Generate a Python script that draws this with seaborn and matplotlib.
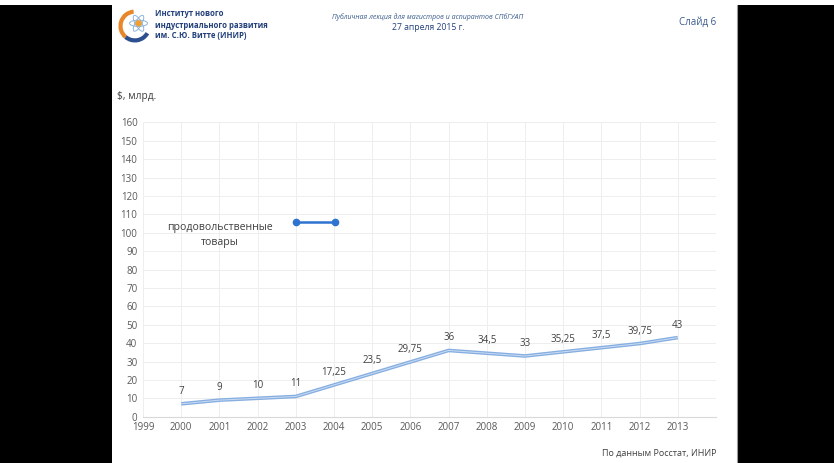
import matplotlib
matplotlib.use("Agg")
import matplotlib.pyplot as plt
import seaborn as sns
import pandas as pd
from matplotlib.patches import Rectangle, Arc, Ellipse, Circle
from matplotlib.lines import Line2D

years = [2000, 2001, 2002, 2003, 2004, 2005, 2006, 2007, 2008, 2009, 2010, 2011, 2012, 2013]
values = [7, 9, 10, 11, 17.25, 23.5, 29.75, 36, 34.5, 33, 35.25, 37.5, 39.75, 43]
x_ticks = list(range(1999, 2014))
y_ticks = list(range(0, 170, 10))
series_name = "продовольственные\nтовары"

sns.set_theme(style="white")
plt.rcParams['font.family'] = ['Open Sans', 'DejaVu Sans']

fig = plt.figure(figsize=(8.34, 4.63), dpi=100)
fig.patch.set_facecolor("white")
W, H = 834, 463

def px(x0, y0, w, h):
    return (x0 / W, 1 - (y0 + h) / H, w / W, h / H)

# black side bars
for (x0, x1) in [(0, 112), (738, 834)]:
    l, b, w, h = px(x0, 5, x1 - x0, H - 5)
    fig.patches.append(Rectangle((l, b), w, h, transform=fig.transFigure,
                                 facecolor="black", edgecolor="none", zorder=0))
fig.add_artist(Line2D([737 / W, 737 / W], [0, 1 - 5 / H], transform=fig.transFigure,
                      color="#9a9a9a", lw=0.8))

df = pd.DataFrame({"year": years, "value": values})

ax = fig.add_axes([143 / W, 46.3 / H, 573 / W, 294.4 / H])
sns.lineplot(data=df, x="year", y="value", ax=ax, color="#86aee0", lw=2.6,
             solid_capstyle="butt")
sns.lineplot(data=df, x="year", y="value", ax=ax, color="#c9dcf3", lw=0.7)

ax.set_xlim(1999, 2014)
ax.set_ylim(0, 160)
ax.set_xticks(x_ticks)
ax.set_yticks(y_ticks)
ax.set_xticklabels([str(t) for t in x_ticks])
ax.set_yticklabels([str(t) for t in y_ticks])
ax.tick_params(axis="both", labelsize=7, colors="#595959", length=0, pad=4)
ax.set_xlabel("")
ax.set_ylabel("")
ax.grid(True, color="#eeeeee", lw=0.7)
for s in ["top", "right", "left"]:
    ax.spines[s].set_visible(False)
ax.spines["bottom"].set_color("#d9d9d9")
ax.spines["bottom"].set_linewidth(0.8)

def fmt(v):
    s = ("%g" % v).replace(".", ",")
    return s

for x, v in zip(years, values):
    ax.annotate(fmt(v), (x, v), xytext=(0, 9), textcoords="offset points",
                ha="center", va="center", fontsize=7, color="#404040")

# legend-like marker
ax.add_line(Line2D([0.267, 0.335], [0.662, 0.662], transform=ax.transAxes,
                   color="#2f73d0", lw=1.8, marker="o", markersize=4.5))
ax.text(0.134, 0.617, series_name, transform=ax.transAxes, ha="center", va="center",
        fontsize=7.6, color="#404040", linespacing=1.45)

# header
fig.text(155 / W, 1 - 14 / H, "Институт нового", fontsize=5.6, fontweight="bold",
         color="#23407a", va="center")
fig.text(155 / W, 1 - 25 / H, "индустриального развития", fontsize=5.6, fontweight="bold",
         color="#23407a", va="center")
fig.text(155 / W, 1 - 36 / H, "им. С.Ю. Витте (ИНИР)", fontsize=5.6, fontweight="bold",
         color="#23407a", va="center")
fig.text(428 / W, 1 - 17 / H, "Публичная лекция для магистров и аспирантов СПбГУАП",
         fontsize=5, style="italic", color="#3a5a8c", ha="center", va="center")
fig.text(428 / W, 1 - 27 / H, "27 апреля 2015 г.", fontsize=6.2, color="#23407a",
         ha="center", va="center")
fig.text(716 / W, 1 - 22 / H, "Слайд 6", fontsize=7, color="#3a5a8c", ha="right", va="center")
fig.text(117 / W, 1 - 96 / H, "$, млрд.", fontsize=7.3, color="#404040", va="center")
fig.text(716 / W, 1 - 453 / H, "По данным Росстат, ИНИР", fontsize=6.5, color="#404040",
         ha="right", va="center")

# logo
lax = fig.add_axes([116 / W, 1 - 44 / H, 36 / W, 36 / H])
lax.set_xlim(-1, 1)
lax.set_ylim(-1, 1)
lax.set_aspect("equal")
lax.axis("off")
lax.add_patch(Arc((0.05, 0), 1.6, 1.6, theta1=95, theta2=230, color="#e8862a", lw=3))
lax.add_patch(Arc((0.05, 0), 1.6, 1.6, theta1=230, theta2=330, color="#2c4f8f", lw=3))
for ang in [0, 60, 120]:
    lax.add_patch(Ellipse((0.25, 0.15), 1.0, 0.35, angle=ang, fill=False,
                          edgecolor="#8fb3d9", lw=0.7))
lax.add_patch(Circle((0.25, 0.15), 0.14, color="#f0a030"))

fig.savefig("out.png", dpi=100, facecolor=fig.get_facecolor())
